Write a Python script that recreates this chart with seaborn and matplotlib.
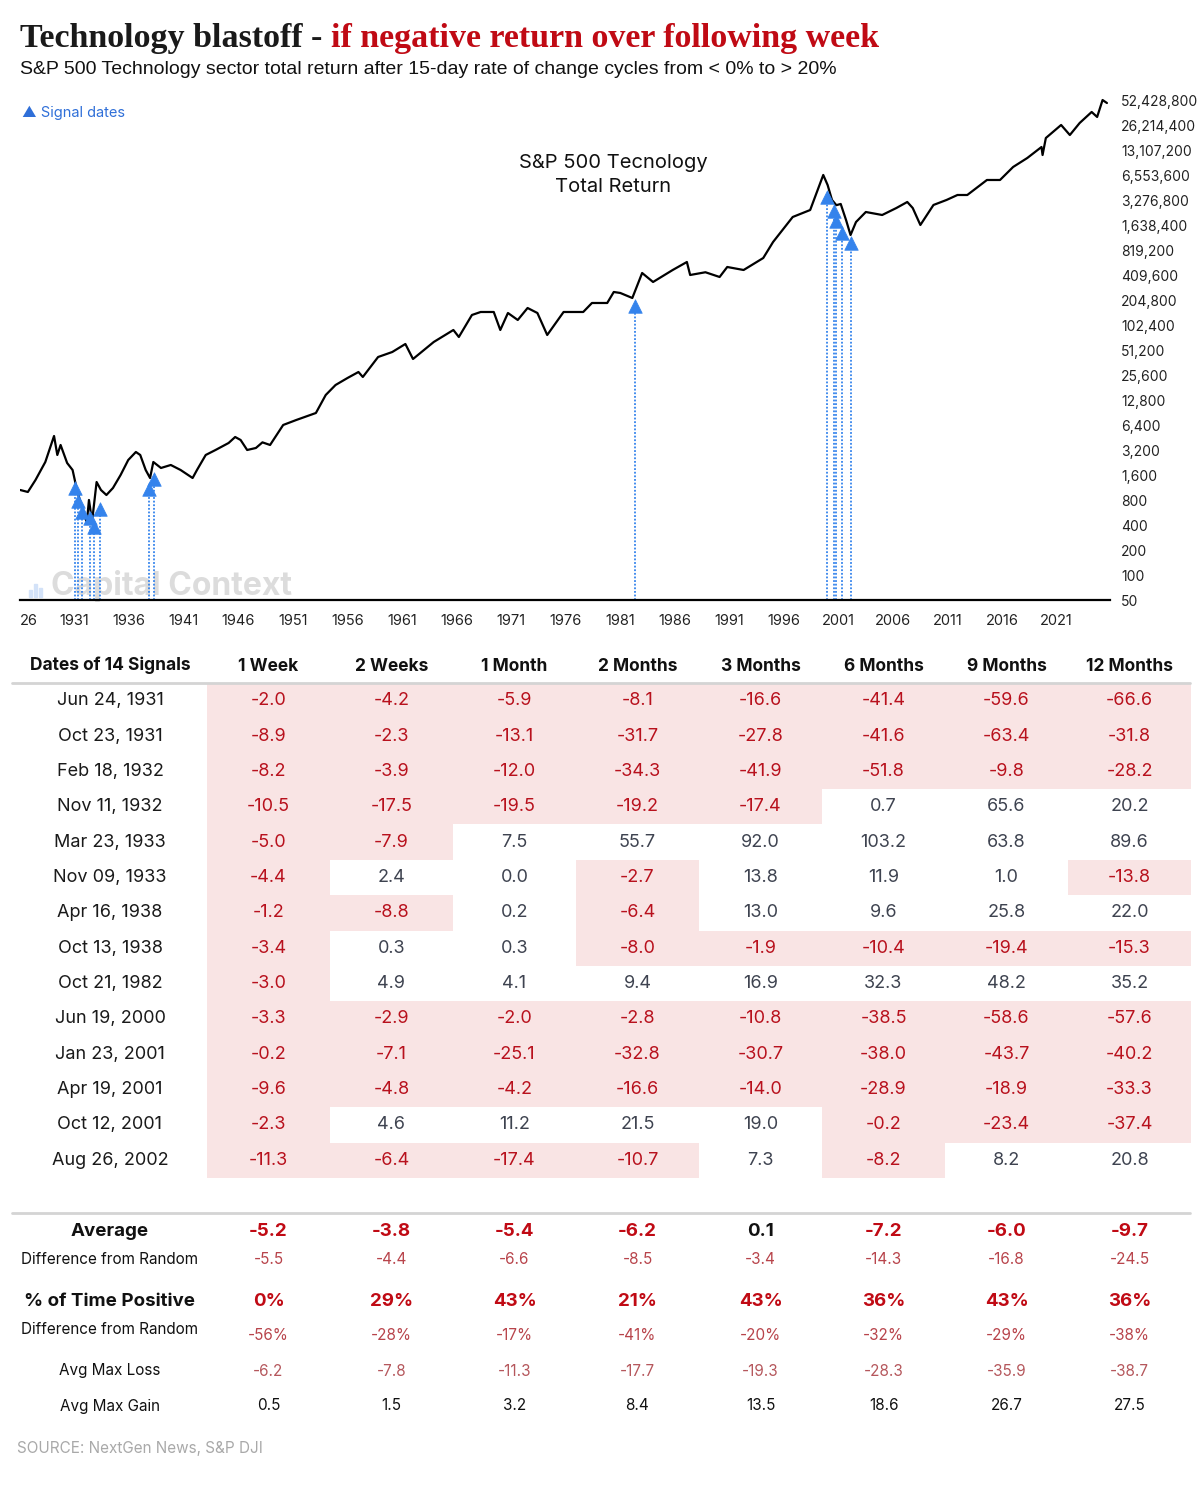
import numpy as np
import pandas as pd
import matplotlib
matplotlib.use("Agg")
import matplotlib.pyplot as plt
import seaborn as sns
from matplotlib.colors import ListedColormap
from matplotlib.lines import Line2D
from matplotlib.patches import Rectangle
from matplotlib.ticker import FixedLocator, FuncFormatter

# ---- price line (fractional year, index level) ----
LINE_YEARS = [1926.5, 1927.2, 1927.9, 1928.8, 1929.6, 1929.9, 1930.2, 1930.8, 1931.3, 1931.7,
              1932.1, 1932.4, 1932.6, 1932.8, 1933.0, 1933.1, 1933.5, 1933.9, 1934.4, 1935.0,
              1935.7, 1936.4, 1937.1, 1937.5, 1938.0, 1938.4, 1938.7, 1939.4, 1940.3, 1941.2,
              1942.3, 1942.7, 1943.5, 1944.4, 1945.6, 1946.2, 1946.7, 1947.3, 1948.1, 1948.7,
              1949.4, 1950.6, 1951.8, 1953.6, 1954.5, 1955.4, 1956.5, 1957.5, 1957.9, 1959.3,
              1960.6, 1961.8, 1962.5, 1964.4, 1966.2, 1966.7, 1967.9, 1968.7, 1969.9, 1970.5,
              1971.2, 1972.1, 1973.0, 1973.9, 1974.8, 1976.3, 1978.1, 1978.9, 1980.3, 1980.9,
              1981.5, 1982.6, 1983.5, 1984.5, 1986.3, 1987.6, 1987.9, 1989.3, 1990.6, 1991.3,
              1992.8, 1994.6, 1995.5, 1997.3, 1998.9, 2000.1, 2000.5, 2000.9, 2001.3, 2001.7,
              2002.2, 2002.6, 2003.1, 2004.0, 2005.5, 2006.8, 2007.8, 2008.3, 2009.0, 2010.2,
              2011.4, 2012.4, 2013.3, 2015.1, 2016.3, 2017.5, 2018.8, 2020.1, 2020.2, 2020.5,
              2021.9, 2022.7, 2023.6, 2024.7, 2025.2, 2025.7, 2026.1]
LINE_VALUES = [1062, 1005, 1402, 2312, 4762, 2809, 3709, 2249, 1851, 1062,
               700, 530, 425, 805, 530, 461, 1326, 1062, 924, 1123,
               1611, 2444, 3053, 2809, 1851, 1482, 2312, 1958, 2128, 1851,
               1482, 1851, 2809, 3227, 3921, 4630, 4261, 3227, 3412, 3990,
               3709, 6465, 7425, 9020, 14870, 19630, 23860, 28170, 24530, 42730,
               49100, 61350, 40430, 64850, 90500, 74500, 137300, 149200, 149200, 90500,
               145100, 119500, 166700, 145100, 78750, 149200, 149200, 191600, 191600, 260100,
               253000, 220100, 440800, 343300, 479100, 598300, 417000, 450000, 394500, 520900,
               479100, 668500, 1043000, 2089000, 2536000, 6714000, 5077000, 3353000, 2900000, 3000000,
               1900000, 1266000, 1816000, 2400000, 2208000, 2681000, 3170000, 2681000, 1673000, 2917000,
               3353000, 3849000, 3849000, 5840000, 5840000, 8380000, 10760000, 14600000, 11690000, 18740000,
               26920000, 20370000, 28450000, 38630000, 33630000, 53840000, 49550000]

# ---- signals ----
SIGNAL_DATES = ["Jun 24, 1931", "Oct 23, 1931", "Feb 18, 1932", "Nov 11, 1932", "Mar 23, 1933",
                "Nov 09, 1933", "Apr 16, 1938", "Oct 13, 1938", "Oct 21, 1982", "Jun 19, 2000",
                "Jan 23, 2001", "Apr 19, 2001", "Oct 12, 2001", "Aug 26, 2002"]
SIGNAL_LEVELS = [1123, 782, 576, 488, 380, 626, 1092, 1441, 176000, 3636000,
                 2470000, 1870000, 1340000, 1015000]

PERIODS = ["1 Week", "2 Weeks", "1 Month", "2 Months", "3 Months", "6 Months", "9 Months", "12 Months"]
RETURNS = [
    [-2.0, -4.2, -5.9, -8.1, -16.6, -41.4, -59.6, -66.6],
    [-8.9, -2.3, -13.1, -31.7, -27.8, -41.6, -63.4, -31.8],
    [-8.2, -3.9, -12.0, -34.3, -41.9, -51.8, -9.8, -28.2],
    [-10.5, -17.5, -19.5, -19.2, -17.4, 0.7, 65.6, 20.2],
    [-5.0, -7.9, 7.5, 55.7, 92.0, 103.2, 63.8, 89.6],
    [-4.4, 2.4, 0.0, -2.7, 13.8, 11.9, 1.0, -13.8],
    [-1.2, -8.8, 0.2, -6.4, 13.0, 9.6, 25.8, 22.0],
    [-3.4, 0.3, 0.3, -8.0, -1.9, -10.4, -19.4, -15.3],
    [-3.0, 4.9, 4.1, 9.4, 16.9, 32.3, 48.2, 35.2],
    [-3.3, -2.9, -2.0, -2.8, -10.8, -38.5, -58.6, -57.6],
    [-0.2, -7.1, -25.1, -32.8, -30.7, -38.0, -43.7, -40.2],
    [-9.6, -4.8, -4.2, -16.6, -14.0, -28.9, -18.9, -33.3],
    [-2.3, 4.6, 11.2, 21.5, 19.0, -0.2, -23.4, -37.4],
    [-11.3, -6.4, -17.4, -10.7, 7.3, -8.2, 8.2, 20.8],
]

AVERAGE = [-5.2, -3.8, -5.4, -6.2, 0.1, -7.2, -6.0, -9.7]
AVG_DIFF = [-5.5, -4.4, -6.6, -8.5, -3.4, -14.3, -16.8, -24.5]
PCT_POS = [0, 29, 43, 21, 43, 36, 43, 36]
PCT_DIFF = [-56, -28, -17, -41, -20, -32, -29, -38]
MAX_LOSS = [-6.2, -7.8, -11.3, -17.7, -19.3, -28.3, -35.9, -38.7]
MAX_GAIN = [0.5, 1.5, 3.2, 8.4, 13.5, 18.6, 26.7, 27.5]

TICK_YEARS = list(range(1926, 2022, 5))

# colours
RED = "#b8111d"
RED_SOFT = "#b8444b"
GRAY_TXT = "#3e4350"
PINK = "#f9e4e4"
BLUE = "#3483ec"

sns.set_theme(style="white")
plt.rcParams["font.family"] = ["Inter", "DejaVu Sans"]

W, H = 1200, 1496
fig = plt.figure(figsize=(W / 100, H / 100), dpi=100)


def fx(px):
    return px / W


def fy(py):
    return 1 - py / H


# ---- title ----
t1 = fig.text(fx(20), fy(38), "Technology blastoff - ", fontsize=24.5, fontweight="bold",
              family="Liberation Serif", color="#1a1a1a", va="center")
fig.canvas.draw()
bb = t1.get_window_extent()
fig.text(bb.x1 / W, fy(38), "if negative return over following week", fontsize=24.5,
         fontweight="bold", family="Liberation Serif", color="#c00a14", va="center")
fig.text(fx(20), fy(70), "S&P 500 Technology sector total return after 15-day rate of change cycles from < 0% to > 20%",
         fontsize=14, family="Liberation Sans", color="#111111", va="center")

# ---- line chart ----
ax = fig.add_axes([fx(20), fy(600), fx(1110) - fx(20), fy(92) - fy(600)])
ax.patch.set_visible(False)

# watermark sits behind everything
ax.text(0.028, 0.028, "Capital Context", transform=ax.transAxes, fontsize=23,
        fontweight="bold", color="#dcdcdc", ha="left", va="center", zorder=0)
for bx, bh in [(29, 7), (34, 13), (39, 9)]:
    fig.add_artist(Rectangle((fx(bx), fy(597)), 3 / W, bh / H, color="#d3e2f8", zorder=0))

df = pd.DataFrame({"year": LINE_YEARS, "level": LINE_VALUES})
sns.lineplot(data=df, x="year", y="level", color="black", linewidth=1.6, ax=ax)

sig = pd.to_datetime(pd.Series(SIGNAL_DATES), format="%b %d, %Y")
sig_years = sig.dt.year + (sig.dt.dayofyear - 1) / 365.25
ax.vlines(sig_years, 50, SIGNAL_LEVELS, colors=BLUE, linestyles=(0, (1, 1)), linewidth=1.3, zorder=2)
sns.scatterplot(x=sig_years, y=SIGNAL_LEVELS, marker="^", s=95, color=BLUE,
                edgecolor=BLUE, linewidth=0.5, ax=ax, zorder=4)

ax.set_yscale("log", base=2)
ax.set_ylim(50, 50 * 2 ** 20.36)
ax.set_xlim(1926.48, 2026.38)
yt = [50 * 2 ** k for k in range(21)]
ax.yaxis.set_major_locator(FixedLocator(yt))
ax.yaxis.set_minor_locator(FixedLocator([]))
ax.yaxis.set_major_formatter(FuncFormatter(lambda v, p: f"{int(round(v)):,}"))
ax.yaxis.tick_right()
ax.tick_params(axis="y", length=0, pad=8, labelsize=10, labelcolor="#222222")
ax.set_xticks([y + 0.48 for y in TICK_YEARS])
ax.set_xticklabels(["26"] + [str(y) for y in TICK_YEARS[1:]])
ax.get_xticklabels()[0].set_horizontalalignment("left")
ax.tick_params(axis="x", direction="out", length=5, width=1.2, color="black",
               pad=5, labelsize=10.5, labelcolor="#222222")
ax.set_xlabel("")
ax.set_ylabel("")
for s in ["top", "right", "left"]:
    ax.spines[s].set_visible(False)
ax.spines["bottom"].set_color("black")
ax.spines["bottom"].set_linewidth(1.6)
ax.grid(False)

ax.text(0.544, 0.837, "S&P 500 Tecnology\nTotal Return", transform=ax.transAxes,
        ha="center", va="center", fontsize=14.5, color="#111111", linespacing=1.45)
fig.text(fx(22), fy(113), "\u25b2 Signal dates", fontsize=10.5, color="#2f6fd8",
         va="center", family=["Inter", "DejaVu Sans"])

# ---- table ----
vals = np.array(RETURNS)
tax = fig.add_axes([fx(207), fy(1178), fx(1191) - fx(207), fy(683) - fy(1178)])
sns.heatmap((vals < 0).astype(int), ax=tax, cmap=ListedColormap(["white", PINK]), vmin=0, vmax=1,
            cbar=False, annot=vals, fmt=".1f", annot_kws={"fontsize": 13},
            xticklabels=PERIODS, yticklabels=False, linewidths=0)
for txt, v in zip(tax.texts, vals.flat):
    txt.set_color(RED if v < 0 else GRAY_TXT)
tax.xaxis.tick_top()
tax.tick_params(axis="x", length=0, pad=6)
for lab in tax.get_xticklabels():
    lab.set_fontweight("bold")
    lab.set_fontsize(12.5)
    lab.set_color("#111111")
    lab.set_rotation(0)

fig.text(fx(110), fy(665), "Dates of 14 Signals", ha="center", va="center",
         fontsize=12.5, fontweight="bold", color="#111111")
row_h = 495 / len(SIGNAL_DATES)
for i, d in enumerate(SIGNAL_DATES):
    fig.text(fx(110), fy(683 + row_h * (i + 0.5)), d, ha="center", va="center",
             fontsize=13, color="#1a1a1a")

fig.add_artist(Line2D([fx(12), fx(1190)], [fy(683), fy(683)], color="#d4d4d4", linewidth=2))
fig.add_artist(Line2D([fx(12), fx(1190)], [fy(1213), fy(1213)], color="#d4d4d4", linewidth=2))

# ---- summary rows ----
col_x = [207 + 123 * (i + 0.5) for i in range(len(PERIODS))]


def row(label, py, values, fmt, color_fn, size, weight="normal", label_size=11,
        label_weight="normal", label_py=None):
    fig.text(fx(110), fy(label_py if label_py else py), label, ha="center", va="center",
             fontsize=label_size, fontweight=label_weight, color="#111111")
    for cx, v in zip(col_x, values):
        fig.text(fx(cx), fy(py), fmt.format(v), ha="center", va="center",
                 fontsize=size, fontweight=weight, color=color_fn(v))


row("Average", 1231, AVERAGE, "{:.1f}", lambda v: "#c00a14" if v < 0 else "#111111",
    13.5, "bold", 13.5, "bold")
row("Difference from Random", 1259, AVG_DIFF, "{:.1f}", lambda v: RED_SOFT if v < 0 else "#111111", 11)
row("% of Time Positive", 1301, PCT_POS, "{}%", lambda v: "#c00a14", 13.5, "bold", 13.5, "bold")
row("Difference from Random", 1336, PCT_DIFF, "{}%", lambda v: RED_SOFT, 11, label_py=1329)
row("Avg Max Loss", 1371, MAX_LOSS, "{:.1f}", lambda v: "#b5575c", 11)
row("Avg Max Gain", 1406, MAX_GAIN, "{:.1f}", lambda v: "#111111", 11)

fig.text(fx(17), fy(1449), "SOURCE: NextGen News, S&P DJI", fontsize=11, color="#a9a9a9", va="center")

fig.savefig("out.png", dpi=100, facecolor="white")
